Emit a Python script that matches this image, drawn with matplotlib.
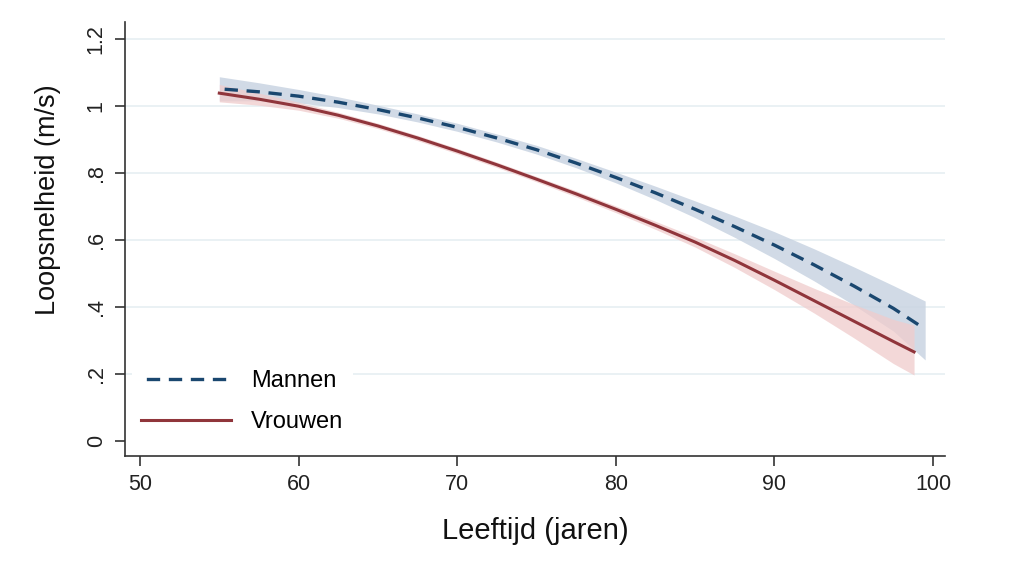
import matplotlib
matplotlib.use("Agg")
import matplotlib.pyplot as plt

plt.rcParams['font.family'] = ['Liberation Sans', 'DejaVu Sans']

# Data
age_m = [55, 57.5, 60, 62.5, 65, 67.5, 70, 72.5, 75, 77.5, 80, 82.5, 85, 87.5, 90, 92.5, 95, 97.5, 99.5]
fit_m = [1.052, 1.043, 1.030, 1.012, 0.990, 0.965, 0.937, 0.905, 0.870, 0.830, 0.787, 0.741, 0.692,
         0.640, 0.585, 0.526, 0.463, 0.396, 0.334]
hi_m = [1.088, 1.070, 1.050, 1.028, 1.003, 0.977, 0.949, 0.917, 0.883, 0.844, 0.803, 0.761, 0.717,
        0.672, 0.625, 0.574, 0.520, 0.464, 0.418]
lo_m = [1.016, 1.016, 1.010, 0.996, 0.977, 0.953, 0.925, 0.893, 0.857, 0.816, 0.771, 0.721, 0.667,
        0.608, 0.545, 0.478, 0.406, 0.328, 0.242]

age_f = [55, 57.5, 60, 62.5, 65, 67.5, 70, 72.5, 75, 77.5, 80, 82.5, 85, 87.5, 90, 92.5, 95, 97.5, 98.8]
fit_f = [1.039, 1.021, 1.000, 0.973, 0.941, 0.905, 0.866, 0.825, 0.782, 0.738, 0.692, 0.644, 0.594,
         0.539, 0.480, 0.419, 0.358, 0.297, 0.266]
hi_f = [1.065, 1.039, 1.012, 0.982, 0.949, 0.913, 0.874, 0.833, 0.790, 0.747, 0.702, 0.656, 0.609,
        0.559, 0.507, 0.456, 0.408, 0.363, 0.346]
lo_f = [1.013, 1.003, 0.988, 0.964, 0.933, 0.897, 0.858, 0.817, 0.774, 0.729, 0.682, 0.632, 0.579,
        0.518, 0.452, 0.382, 0.308, 0.231, 0.197]

xticks = [50, 60, 70, 80, 90, 100]
yticks = [0, 0.2, 0.4, 0.6, 0.8, 1.0, 1.2]
ytick_labels = ['0', '.2', '.4', '.6', '.8', '1', '1.2']

navy = '#1a476f'
maroon = '#90353b'

fig = plt.figure(figsize=(10.24, 5.69), dpi=100)
ax = fig.add_axes([0.122, 0.1986, 0.801, 0.7624])

for y in yticks[1:]:
    ax.axhline(y, color='#e6eff2', lw=1.2, zorder=0)

ax.fill_between(age_m, lo_m, hi_m, color='#c9d4e2', alpha=0.85, lw=0, zorder=1)
ax.fill_between(age_f, lo_f, hi_f, color='#f0cccc', alpha=0.75, lw=0, zorder=2)

ax.plot(age_m, fit_m, color=navy, lw=2.4, ls=(5, (4.0, 2.6)), label='Mannen', zorder=4)
ax.plot(age_f, fit_f, color=maroon, lw=2.2, ls='-', label='Vrouwen', zorder=3)

ax.set_xlim(49.05, 100.76)
ax.set_ylim(-0.045, 1.251)
ax.set_xticks(xticks)
ax.set_xticklabels([str(t) for t in xticks])
ax.set_yticks(yticks)
ax.set_yticklabels(ytick_labels, rotation=90, va='center')

for s in ['top', 'right']:
    ax.spines[s].set_visible(False)
for s in ['left', 'bottom']:
    ax.spines[s].set_color('#333333')
    ax.spines[s].set_linewidth(1.2)

ax.tick_params(axis='both', direction='out', length=7, width=1.2, color='#333333',
               labelsize=15.5, labelcolor='#222222')
ax.tick_params(axis='x', pad=6)
ax.tick_params(axis='y', pad=6)

ax.set_xlabel('Leeftijd (jaren)', fontsize=21, labelpad=16, color='#111111')
ax.set_ylabel('Loopsnelheid (m/s)', fontsize=19.5, color='#111111')
ax.yaxis.set_label_coords(-0.078, 0.59)

leg = ax.legend(loc='lower left', bbox_to_anchor=(0.0, 0.015), frameon=True,
                facecolor='white', edgecolor='none', framealpha=1,
                fontsize=17, handlelength=3.8, handletextpad=0.85,
                labelspacing=0.8, borderaxespad=0.3)
leg.set_zorder(5)

fig.savefig('out.png', dpi=100)
